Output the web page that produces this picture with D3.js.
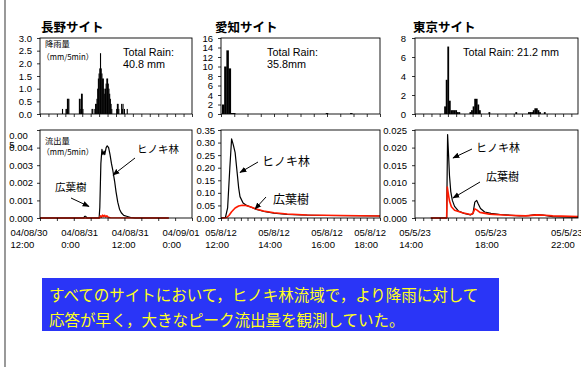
<!DOCTYPE html>
<html>
<head>
<meta charset="utf-8">
<script src="https://cdn.jsdelivr.net/npm/d3@7"></script>
<style>
  body { margin: 0; background: #fff; }
  svg { display: block; }
  text { font-family: "Liberation Sans", Arial, sans-serif; }
  .jp { font-family: "Noto Sans CJK JP", sans-serif; }
</style>
</head>
<body>
<svg id="chart" width="581" height="367"></svg>
<script>
// ---- data ----
const siteNames = ["長野サイト", "愛知サイト", "東京サイト"];
const totalRain = [["Total Rain:", "40.8 mm"], ["Total Rain:", "35.8mm"], ["Total Rain: 21.2 mm"]];

const xDomains = [
  ["04/08/30 12:00", "04/09/01 00:00"],
  ["05/08/12 12:00", "05/08/12 18:00"],
  ["05/05/23 14:00", "05/05/23 22:35"]
];
const xLabelTimes = [
  ["04/08/30 12:00", "04/08/31 00:00", "04/08/31 12:00", "04/09/01 00:00"],
  ["05/08/12 12:00", "05/08/12 14:00", "05/08/12 16:00", "05/08/12 18:00"],
  ["05/05/23 14:00", "05/05/23 18:00", "05/05/23 22:00"]
];
const xLabels = [
  [["04/08/30", "12:00"], ["04/08/31", "0:00"], ["04/08/31", "12:00"], ["04/09/01", "0:00"]],
  [["05/8/12", "12:00"], ["05/8/12", "14:00"], ["05/8/12", "16:00"], ["05/8/12", "18:00"]],
  [["05/5/23", "14:00"], ["05/5/23", "18:00"], ["05/5/23", "22:00"]]
];

const rainMax = [3, 16, 8];
const rainStep = [0.5, 2, 2];
const flowMax = [0.005, 0.35, 0.025];
const flowStep = [0.001, 0.05, 0.005];

// rainfall (mm/5min)
const naganoRain = [
  ["04/08/30 17:20", 0.2],
  ["04/08/30 18:10", 0.2], ["04/08/30 18:20", 0.2], ["04/08/30 18:30", 0.6], ["04/08/30 18:40", 0.6], ["04/08/30 18:50", 0.6],
  ["04/08/30 21:20", 0.6], ["04/08/30 21:30", 0.6], ["04/08/30 21:40", 0.2], ["04/08/30 21:50", 0.8], ["04/08/30 22:00", 0.8], ["04/08/30 22:10", 0.2],
  ["04/08/31 00:20", 0.2], ["04/08/31 00:30", 0.2],
  ["04/08/31 01:00", 0.2], ["04/08/31 01:10", 0.4], ["04/08/31 01:20", 0.4], ["04/08/31 01:30", 0.6], ["04/08/31 01:40", 1.0],
  ["04/08/31 01:50", 1.4], ["04/08/31 02:00", 1.6], ["04/08/31 02:10", 1.8], ["04/08/31 02:20", 2.4], ["04/08/31 02:30", 1.8],
  ["04/08/31 02:40", 1.6], ["04/08/31 02:50", 1.4], ["04/08/31 03:00", 1.4], ["04/08/31 03:10", 1.0], ["04/08/31 03:20", 0.8],
  ["04/08/31 03:30", 1.0], ["04/08/31 03:40", 1.2], ["04/08/31 03:50", 1.4], ["04/08/31 04:00", 1.4], ["04/08/31 04:10", 1.2],
  ["04/08/31 04:20", 1.0], ["04/08/31 04:30", 0.8], ["04/08/31 04:40", 0.6], ["04/08/31 04:50", 0.4], ["04/08/31 05:00", 0.2],
  ["04/08/31 06:10", 0.2], ["04/08/31 06:20", 0.4], ["04/08/31 06:30", 0.4], ["04/08/31 06:40", 0.2],
  ["04/08/31 07:20", 0.4], ["04/08/31 07:30", 0.2], ["04/08/31 07:40", 0.4], ["04/08/31 08:00", 0.2], ["04/08/31 08:40", 0.2]
];
const aichiRain = [
  ["05/08/12 12:05", 2.0], ["05/08/12 12:10", 10.0], ["05/08/12 12:15", 13.4], ["05/08/12 12:20", 9.6],
  ["05/08/12 12:25", 0.2], ["05/08/12 12:30", 0.2], ["05/08/12 16:00", 0.2], ["05/08/12 16:55", 0.2]
];
const tokyoRain = [
  ["05/05/23 15:35", 0.8], ["05/05/23 15:40", 3.6], ["05/05/23 15:45", 7.1], ["05/05/23 15:50", 1.4],
  ["05/05/23 15:55", 0.4], ["05/05/23 16:00", 0.4], ["05/05/23 16:05", 0.4], ["05/05/23 16:10", 0.4],
  ["05/05/23 16:15", 0.2], ["05/05/23 16:20", 0.2],
  ["05/05/23 16:55", 0.2], ["05/05/23 17:00", 0.4], ["05/05/23 17:05", 0.8], ["05/05/23 17:10", 1.6],
  ["05/05/23 17:15", 1.6], ["05/05/23 17:20", 1.0], ["05/05/23 17:25", 0.4],
  ["05/05/23 17:55", 0.2], ["05/05/23 19:20", 0.2],
  ["05/05/23 20:00", 0.2], ["05/05/23 20:05", 0.2], ["05/05/23 20:10", 0.2], ["05/05/23 20:15", 0.4],
  ["05/05/23 20:20", 0.6], ["05/05/23 20:25", 0.6], ["05/05/23 20:30", 0.4], ["05/05/23 20:35", 0.2], ["05/05/23 20:50", 0.2]
];

// runoff (mm/5min): ヒノキ林 (black) and 広葉樹 (red)
const naganoHinoki = [
  ["04/08/30 12:00", 0], ["04/08/30 22:20", 0], ["04/08/30 22:35", 0.0001], ["04/08/30 22:50", 0.0001], ["04/08/30 23:05", 0],
  ["04/08/31 02:00", 0], ["04/08/31 02:10", 0.0006], ["04/08/31 02:25", 0.0031], ["04/08/31 02:40", 0.0039],
  ["04/08/31 02:55", 0.0036], ["04/08/31 03:10", 0.0038], ["04/08/31 03:20", 0.0036], ["04/08/31 03:40", 0.0040],
  ["04/08/31 03:55", 0.0041], ["04/08/31 04:15", 0.0040], ["04/08/31 04:35", 0.0036], ["04/08/31 04:55", 0.0031],
  ["04/08/31 05:15", 0.0027], ["04/08/31 05:40", 0.0021], ["04/08/31 06:00", 0.0015], ["04/08/31 06:25", 0.0009],
  ["04/08/31 06:50", 0.0005], ["04/08/31 07:15", 0.0003], ["04/08/31 07:50", 0.00015], ["04/08/31 08:30", 0.0001],
  ["04/08/31 09:30", 0.00003], ["04/08/31 10:30", 0], ["04/08/31 18:30", 0]
];
const naganoKoyoju = [
  ["04/08/30 12:00", 0], ["04/08/31 02:05", 0], ["04/08/31 02:20", 0.00012], ["04/08/31 02:35", 0.00005],
  ["04/08/31 02:50", 0.00016], ["04/08/31 03:05", 0.00008], ["04/08/31 03:20", 0.00015], ["04/08/31 03:35", 0.00006],
  ["04/08/31 03:50", 0.00012], ["04/08/31 04:10", 0.00004], ["04/08/31 04:40", 0.00001], ["04/08/31 18:30", 0]
];
const aichiHinoki = [
  ["05/08/12 12:00", 0], ["05/08/12 12:10", 0.002], ["05/08/12 12:15", 0.04], ["05/08/12 12:20", 0.2],
  ["05/08/12 12:24", 0.315], ["05/08/12 12:28", 0.29], ["05/08/12 12:32", 0.26], ["05/08/12 12:36", 0.19],
  ["05/08/12 12:40", 0.12], ["05/08/12 12:43", 0.085], ["05/08/12 12:50", 0.06], ["05/08/12 12:58", 0.05],
  ["05/08/12 13:10", 0.042], ["05/08/12 13:20", 0.034], ["05/08/12 13:40", 0.025], ["05/08/12 14:00", 0.019],
  ["05/08/12 14:30", 0.014], ["05/08/12 15:00", 0.012], ["05/08/12 16:00", 0.01], ["05/08/12 17:00", 0.009],
  ["05/08/12 18:00", 0.008]
];
const aichiKoyoju = [
  ["05/08/12 12:00", 0], ["05/08/12 12:12", 0.001], ["05/08/12 12:18", 0.01], ["05/08/12 12:24", 0.025],
  ["05/08/12 12:32", 0.04], ["05/08/12 12:40", 0.048], ["05/08/12 12:48", 0.051], ["05/08/12 12:56", 0.05],
  ["05/08/12 13:06", 0.045], ["05/08/12 13:20", 0.036], ["05/08/12 13:36", 0.028], ["05/08/12 14:00", 0.021],
  ["05/08/12 14:30", 0.016], ["05/08/12 15:15", 0.012], ["05/08/12 16:30", 0.01], ["05/08/12 18:00", 0.008]
];
const tokyoHinoki = [
  ["05/05/23 14:50", 0], ["05/05/23 15:40", 0], ["05/05/23 15:43", 0.0237], ["05/05/23 15:46", 0.018],
  ["05/05/23 15:49", 0.012], ["05/05/23 15:53", 0.0075], ["05/05/23 15:58", 0.005], ["05/05/23 16:05", 0.0033],
  ["05/05/23 16:17", 0.002], ["05/05/23 16:35", 0.0013], ["05/05/23 16:55", 0.0009], ["05/05/23 17:03", 0.0012],
  ["05/05/23 17:09", 0.0045], ["05/05/23 17:15", 0.005], ["05/05/23 17:20", 0.004], ["05/05/23 17:27", 0.0027],
  ["05/05/23 17:40", 0.0017], ["05/05/23 18:00", 0.0013], ["05/05/23 18:30", 0.001], ["05/05/23 19:30", 0.0006],
  ["05/05/23 20:00", 0.0007], ["05/05/23 20:20", 0.001], ["05/05/23 20:45", 0.0008], ["05/05/23 21:15", 0.0004],
  ["05/05/23 22:35", 0.0002]
];
const tokyoKoyoju = [
  ["05/05/23 14:50", 0], ["05/05/23 15:40", 0], ["05/05/23 15:42", 0.0088], ["05/05/23 15:45", 0.007],
  ["05/05/23 15:49", 0.0048], ["05/05/23 15:55", 0.0032], ["05/05/23 16:05", 0.0022], ["05/05/23 16:30", 0.0015],
  ["05/05/23 16:55", 0.001], ["05/05/23 17:03", 0.0013], ["05/05/23 17:09", 0.0026], ["05/05/23 17:15", 0.0023],
  ["05/05/23 17:25", 0.0016], ["05/05/23 17:55", 0.0011], ["05/05/23 18:50", 0.0008], ["05/05/23 19:50", 0.0006],
  ["05/05/23 20:25", 0.0009], ["05/05/23 20:50", 0.0008], ["05/05/23 21:15", 0.0006], ["05/05/23 22:35", 0.0004]
];

const rainSeries = [naganoRain, aichiRain, tokyoRain];
const hinokiSeries = [naganoHinoki, aichiHinoki, tokyoHinoki];
const koyojuSeries = [naganoKoyoju, aichiKoyoju, tokyoKoyoju];

const summaryLines = [
  "すべてのサイトにおいて，ヒノキ林流域で，より降雨に対して",
  "応答が早く，大きなピーク流出量を観測していた。"
];

// ---- layout ----
const RT = 38, RB = 114, FT = 130, FB = 218;
const layout = [
  { left: 40, right: 192, titleX: 41, rainLabelGap: 8, flowLabelGap: 4, rainTick: 120, flowTick: 240, labelShift: -11, labelMaxRight: 600,
    rainFmt: ".1f", flowFmt: ".3f", barW: 1.1, rainNoteX: 123,
    hLabel: [137, 153], hArrow: [135, 158, 113, 175], kLabel: [55, 190.5], kArrow: [71, 198, 89, 206.5], noteSize: 10.5 },
  { left: 221, right: 380, titleX: 215, rainLabelGap: 8, flowLabelGap: 3, rainTick: 30, flowTick: 15, labelShift: 0, labelMaxRight: 386,
    rainFmt: "d", flowFmt: ".2f", barW: 2.5, rainNoteX: 267,
    hLabel: [262, 165.5], hArrow: [258, 162, 240, 172.5], kLabel: [273, 203.5], kArrow: [266, 197, 255, 209], noteSize: 12 },
  { left: 415, right: 578, titleX: 413, rainLabelGap: 9, flowLabelGap: 5, rainTick: 26, flowTick: 26, labelShift: 0, labelMaxRight: 600,
    rainFmt: "d", flowFmt: ".3f", barW: 1.8, rainNoteX: 463,
    hLabel: [476, 151.5], hArrow: [472, 149, 453, 158], kLabel: [486, 180.5], kArrow: [480, 182, 453, 198], noteSize: 11 }
];

const parseTime = d3.timeParse("%y/%m/%d %H:%M");
const svg = d3.select("#chart");

svg.append("defs").append("marker")
  .attr("id", "ah")
  .attr("viewBox", "0 0 10 10")
  .attr("refX", 9).attr("refY", 5)
  .attr("markerWidth", 7).attr("markerHeight", 7)
  .attr("orient", "auto")
  .append("path").attr("d", "M0,1L10,5L0,9z").attr("fill", "#000");

// left page border
svg.append("line")
  .attr("x1", 5).attr("x2", 5).attr("y1", 0).attr("y2", 367)
  .attr("stroke", "#808080").attr("stroke-width", 1.6);

function styleAxis(g) {
  g.attr("font-size", 9.5);
  g.selectAll(".tick line").attr("stroke", "#000").attr("stroke-width", 0.8);
  g.select(".domain").remove();
}

siteNames.forEach((name, i) => {
  const L = layout[i];
  const t0 = parseTime(xDomains[i][0]), t1 = parseTime(xDomains[i][1]);
  const x = d3.scaleTime().domain([t0, t1]).range([L.left, L.right]);
  const yR = d3.scaleLinear().domain([0, rainMax[i]]).range([RB, RT]);
  const yF = d3.scaleLinear().domain([0, flowMax[i]]).range([FB, FT]);

  // title
  svg.append("text").attr("class", "jp")
    .attr("x", L.titleX).attr("y", 32)
    .attr("font-size", 12.5).attr("font-weight", 700)
    .text(name);

  // ---- rainfall ----
  svg.append("g").selectAll("rect")
    .data(rainSeries[i])
    .join("rect")
    .attr("x", d => x(parseTime(d[0])) - L.barW / 2)
    .attr("y", d => yR(d[1]))
    .attr("width", L.barW)
    .attr("height", d => RB - yR(d[1]))
    .attr("fill", "#000");

  svg.append("g")
    .attr("transform", `translate(${L.left},0)`)
    .call(d3.axisLeft(yR)
      .tickValues(d3.range(0, rainMax[i] + rainStep[i] / 2, rainStep[i]))
      .tickSize(3).tickPadding(L.rainLabelGap - 3)
      .tickFormat(d3.format(L.rainFmt)))
    .call(styleAxis);

  svg.append("g")
    .attr("transform", `translate(0,${RB})`)
    .call(d3.axisBottom(x)
      .tickValues(d3.range(+t0, +t1 + 1, L.rainTick * 60000).map(t => new Date(t)))
      .tickSize(3).tickFormat(""))
    .call(styleAxis);

  svg.append("rect")
    .attr("x", L.left).attr("y", RT)
    .attr("width", L.right - L.left).attr("height", RB - RT)
    .attr("fill", "none").attr("stroke", "#000").attr("stroke-width", 0.9);

  totalRain[i].forEach((s, k) => {
    svg.append("text")
      .attr("x", L.rainNoteX).attr("y", 55.5 + k * 12)
      .attr("font-size", 10.8).text(s);
  });

  // ---- runoff ----
  const fAxis = svg.append("g")
    .attr("transform", `translate(${L.left},0)`)
    .call(d3.axisLeft(yF)
      .tickValues(d3.range(0, flowMax[i] + flowStep[i] / 2, flowStep[i]))
      .tickSize(3).tickPadding(L.flowLabelGap)
      .tickFormat(d3.format(L.flowFmt)))
    .call(styleAxis);

  if (i === 0) {
    // the top label of the Nagano runoff axis is wrapped (and pushed down) in the original
    const top = fAxis.selectAll(".tick").filter(d => Math.abs(d - flowMax[0]) < 1e-9).select("text");
    const w = fAxis.selectAll(".tick text").filter(d => d === 0).node().getComputedTextLength();
    const lx = -3 - L.flowLabelGap - w;
    top.text(null).attr("text-anchor", "start").attr("x", lx).attr("dy", null).attr("y", null);
    top.append("tspan").attr("x", lx).attr("y", 8.5).text("0.00");
    top.append("tspan").attr("x", lx).attr("y", 17.5).text("5");
  }

  const line = d3.line()
    .x(d => x(parseTime(d[0])))
    .y(d => yF(d[1]));

  svg.append("path").datum(hinokiSeries[i])
    .attr("d", line).attr("fill", "none")
    .attr("stroke", "#000").attr("stroke-width", 1.2).attr("stroke-linejoin", "round");
  svg.append("path").datum(koyojuSeries[i])
    .attr("d", line).attr("fill", "none")
    .attr("stroke", "#ff1a00").attr("stroke-width", 1.6).attr("stroke-linejoin", "round");

  svg.append("g")
    .attr("transform", `translate(0,${FB})`)
    .call(d3.axisBottom(x)
      .tickValues(d3.range(+t0, +t1 + 1, L.flowTick * 60000).map(t => new Date(t)))
      .tickSize(3).tickFormat(""))
    .call(styleAxis);

  svg.append("rect")
    .attr("x", L.left).attr("y", FT)
    .attr("width", L.right - L.left).attr("height", FB - FT)
    .attr("fill", "none").attr("stroke", "#000").attr("stroke-width", 0.9);

  // time labels (two lines, left-aligned block centred on the tick)
  xLabelTimes[i].forEach((ts, k) => {
    const cx = x(parseTime(ts)) + L.labelShift;
    const t = svg.append("text").attr("font-size", 9.5);
    t.append("tspan").attr("x", 0).attr("y", 236).text(xLabels[i][k][0]);
    t.append("tspan").attr("x", 0).attr("y", 248).text(xLabels[i][k][1]);
    const w = t.node().getBBox().width;
    let sx = cx - w / 2;
    if (sx + w > L.labelMaxRight) sx = L.labelMaxRight - w;
    t.selectAll("tspan").attr("x", sx);
  });

  // series labels with arrows
  svg.append("text").attr("class", "jp")
    .attr("x", L.hLabel[0]).attr("y", L.hLabel[1])
    .attr("font-size", L.noteSize).text("ヒノキ林");
  svg.append("text").attr("class", "jp")
    .attr("x", L.kLabel[0]).attr("y", L.kLabel[1])
    .attr("font-size", L.noteSize).text("広葉樹");
  [L.hArrow, L.kArrow].forEach(a => {
    svg.append("line")
      .attr("x1", a[0]).attr("y1", a[1]).attr("x2", a[2]).attr("y2", a[3])
      .attr("stroke", "#000").attr("stroke-width", 1)
      .attr("marker-end", "url(#ah)");
  });
});

// unit notes (Nagano panels)
svg.append("text").attr("class", "jp").attr("x", 45).attr("y", 47).attr("font-size", 8.3).text("降雨量");
svg.append("text").attr("class", "jp").attr("x", 42).attr("y", 59.5).attr("font-size", 7.8).text("（mm/5min）");
svg.append("text").attr("class", "jp").attr("x", 45).attr("y", 143.5).attr("font-size", 8.3).text("流出量");
svg.append("text").attr("class", "jp").attr("x", 42).attr("y", 155).attr("font-size", 7.8).text("（mm/5min）");

// summary box
svg.append("rect")
  .attr("x", 42).attr("y", 278).attr("width", 457).attr("height", 53)
  .attr("fill", "#2a35f7");
summaryLines.forEach((s, k) => {
  svg.append("text").attr("class", "jp")
    .attr("x", 49).attr("y", 300.5 + k * 25)
    .attr("font-size", 15.5).attr("fill", "#ffff20")
    .text(s);
});
</script>
</body>
</html>
